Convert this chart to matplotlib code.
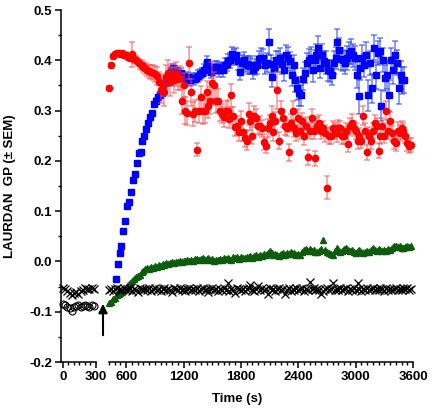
import numpy as np
import matplotlib
matplotlib.use("Agg")
import matplotlib.pyplot as plt
from matplotlib.ticker import MultipleLocator

plt.rcParams['font.family'] = ['Liberation Sans', 'DejaVu Sans']
plt.rcParams['font.weight'] = 'bold'
plt.rcParams['font.size'] = 9.5

# sampling every 20 s
step = 20

# before addition (left panel), t = 0..280 s
pre_start = 0
pre_cross = [-0.052, -0.055, -0.058, -0.062, -0.066, -0.063, -0.060, -0.064,
             -0.058, -0.056, -0.052, -0.054, -0.055, -0.052, -0.054]
pre_circle = [-0.084, -0.086, -0.090, -0.092, -0.098, -0.090, -0.088, -0.086,
              -0.090, -0.088, -0.086, -0.088, -0.090, -0.087, -0.088]

# blue squares, from 490 s
blue_start = 490
blue_gp = [
    -0.034, -0.005, 0.016, 0.030, 0.060, 0.080, 0.110, 0.118, 0.139, 0.161,
    0.173, 0.195, 0.215, 0.217, 0.240, 0.250, 0.264, 0.276, 0.287, 0.296,
    0.314, 0.320, 0.326, 0.331, 0.335, 0.345, 0.354, 0.360, 0.366, 0.378,
    0.384, 0.380, 0.375, 0.372, 0.374, 0.368, 0.365, 0.362, 0.366, 0.360,
    0.365, 0.362, 0.364, 0.368, 0.372, 0.374, 0.380, 0.385, 0.396, 0.382,
    0.376, 0.380, 0.386, 0.386, 0.380, 0.384, 0.380, 0.390, 0.392, 0.398,
    0.400, 0.413, 0.406, 0.410, 0.398, 0.376, 0.395, 0.400, 0.392, 0.390,
    0.388, 0.390, 0.380, 0.386, 0.390, 0.402, 0.405, 0.405, 0.390, 0.395,
    0.436, 0.392, 0.367, 0.385, 0.400, 0.398, 0.405, 0.392, 0.380, 0.410,
    0.405, 0.398, 0.370, 0.390, 0.360, 0.344, 0.334, 0.330, 0.362, 0.375,
    0.395, 0.400, 0.405, 0.380, 0.400, 0.410, 0.425, 0.385, 0.410, 0.398,
    0.395, 0.380, 0.378, 0.370, 0.395, 0.405, 0.436, 0.420, 0.402, 0.400,
    0.395, 0.405, 0.415, 0.418, 0.410, 0.405, 0.370, 0.328, 0.385, 0.405,
    0.390, 0.410, 0.330, 0.395, 0.344, 0.425, 0.370, 0.415, 0.418, 0.310,
    0.400, 0.365, 0.370, 0.330, 0.400, 0.380, 0.410, 0.395, 0.344, 0.370,
    0.360, 0.360,
]
blue_sem = [
    0.003, 0.003, 0.005, 0.004, 0.003, 0.003, 0.004, 0.003, 0.003, 0.003,
    0.003, 0.003, 0.003, 0.004, 0.003, 0.003, 0.004, 0.003, 0.004, 0.004,
    0.004, 0.005, 0.005, 0.005, 0.006, 0.006, 0.006, 0.007, 0.007, 0.008,
    0.008, 0.008, 0.009, 0.008, 0.010, 0.009, 0.010, 0.009, 0.010, 0.011,
    0.010, 0.011, 0.010, 0.012, 0.011, 0.010, 0.012, 0.011, 0.013, 0.012,
    0.011, 0.012, 0.013, 0.012, 0.014, 0.012, 0.013, 0.015, 0.013, 0.014,
    0.015, 0.014, 0.016, 0.015, 0.017, 0.016, 0.015, 0.017, 0.016, 0.018,
    0.016, 0.018, 0.017, 0.016, 0.018, 0.017, 0.019, 0.018, 0.017, 0.019,
    0.026, 0.018, 0.020, 0.019, 0.018, 0.021, 0.019, 0.020, 0.022, 0.020,
    0.021, 0.019, 0.022, 0.020, 0.024, 0.022, 0.025, 0.020, 0.022, 0.021,
    0.020, 0.022, 0.021, 0.023, 0.020, 0.022, 0.024, 0.021, 0.022, 0.020,
    0.023, 0.021, 0.022, 0.020, 0.023, 0.022, 0.026, 0.024, 0.022, 0.021,
    0.023, 0.024, 0.022, 0.025, 0.023, 0.024, 0.026, 0.034, 0.024, 0.025,
    0.023, 0.026, 0.030, 0.024, 0.028, 0.025, 0.027, 0.024, 0.026, 0.030,
    0.024, 0.026, 0.028, 0.030, 0.025, 0.027, 0.028, 0.025, 0.030, 0.028,
    0.027, 0.026,
]

# red circles, from 420 s
red_start = 420
red_gp = [
    0.344, 0.390, 0.408, 0.413, 0.415, 0.414, 0.412, 0.414, 0.410, 0.410,
    0.406, 0.405, 0.412, 0.402, 0.400, 0.396, 0.392, 0.390, 0.386, 0.384,
    0.380, 0.378, 0.376, 0.375, 0.372, 0.368, 0.356, 0.340, 0.350, 0.336,
    0.366, 0.374, 0.356, 0.370, 0.360, 0.372, 0.362, 0.364, 0.320, 0.350,
    0.300, 0.296, 0.394, 0.336, 0.294, 0.300, 0.222, 0.300, 0.326, 0.300,
    0.300, 0.336, 0.310, 0.320, 0.354, 0.350, 0.320, 0.320, 0.300, 0.294,
    0.287, 0.300, 0.300, 0.284, 0.330, 0.290, 0.267, 0.270, 0.257, 0.280,
    0.257, 0.245, 0.240, 0.294, 0.280, 0.250, 0.290, 0.285, 0.270, 0.270,
    0.265, 0.237, 0.230, 0.265, 0.275, 0.290, 0.257, 0.280, 0.340, 0.240,
    0.300, 0.285, 0.270, 0.265, 0.217, 0.275, 0.300, 0.265, 0.255, 0.285,
    0.260, 0.280, 0.250, 0.270, 0.207, 0.260, 0.285, 0.260, 0.205, 0.270,
    0.275, 0.260, 0.265, 0.255, 0.147, 0.250, 0.250, 0.265, 0.260, 0.255,
    0.265, 0.265, 0.250, 0.250, 0.260, 0.234, 0.270, 0.275, 0.265, 0.260,
    0.240, 0.250, 0.240, 0.290, 0.260, 0.217, 0.250, 0.240, 0.260, 0.275,
    0.270, 0.220, 0.250, 0.270, 0.250, 0.300, 0.260, 0.280, 0.255, 0.240,
    0.235, 0.260, 0.255, 0.265, 0.260, 0.250, 0.235, 0.230, 0.232,
]
red_sem = [
    0.004, 0.005, 0.005, 0.004, 0.004, 0.005, 0.004, 0.005, 0.005, 0.006,
    0.006, 0.007, 0.025, 0.007, 0.008, 0.008, 0.009, 0.010, 0.010, 0.011,
    0.012, 0.013, 0.014, 0.015, 0.016, 0.018, 0.020, 0.024, 0.022, 0.026,
    0.024, 0.026, 0.028, 0.022, 0.026, 0.024, 0.022, 0.024, 0.027, 0.024,
    0.026, 0.024, 0.032, 0.027, 0.024, 0.022, 0.013, 0.024, 0.022, 0.026,
    0.024, 0.022, 0.024, 0.026, 0.042, 0.027, 0.024, 0.022, 0.020, 0.019,
    0.020, 0.019, 0.022, 0.019, 0.022, 0.018, 0.018, 0.019, 0.017, 0.019,
    0.018, 0.017, 0.019, 0.022, 0.018, 0.017, 0.019, 0.018, 0.017, 0.019,
    0.017, 0.016, 0.015, 0.018, 0.017, 0.019, 0.017, 0.018, 0.036, 0.017,
    0.019, 0.017, 0.018, 0.016, 0.017, 0.018, 0.019, 0.017, 0.016, 0.018,
    0.017, 0.016, 0.018, 0.017, 0.015, 0.017, 0.018, 0.016, 0.015, 0.017,
    0.016, 0.017, 0.015, 0.017, 0.023, 0.016, 0.017, 0.015, 0.016, 0.017,
    0.016, 0.015, 0.017, 0.016, 0.015, 0.017, 0.016, 0.018, 0.015, 0.016,
    0.017, 0.016, 0.015, 0.019, 0.016, 0.015, 0.017, 0.016, 0.015, 0.017,
    0.016, 0.015, 0.017, 0.016, 0.015, 0.019, 0.016, 0.017, 0.015, 0.016,
    0.015, 0.017, 0.016, 0.015, 0.016, 0.015, 0.016, 0.015, 0.014,
]

# green triangles, from 420 s
green_start = 420
green_gp = [
    -0.082, -0.080, -0.075, -0.072, -0.067, -0.065, -0.062, -0.060, -0.056, -0.053,
    -0.046, -0.042, -0.038, -0.034, -0.031, -0.029, -0.026, -0.022, -0.020, -0.016,
    -0.014, -0.015, -0.012, -0.013, -0.010, -0.011, -0.008, -0.009, -0.006, -0.007,
    -0.004, -0.005, -0.003, -0.002, -0.004, -0.001, -0.002, 0.000, -0.002, 0.001,
    0.000, 0.002, 0.000, 0.003, 0.001, 0.004, 0.005, 0.002, 0.004, 0.006,
    0.003, 0.005, 0.006, 0.002, 0.004, 0.001, 0.003, 0.002, 0.005, 0.003,
    0.006, 0.004, 0.007, 0.005, 0.003, 0.008, 0.006, 0.008, 0.005, 0.009,
    0.007, 0.006, 0.009, 0.008, 0.011, 0.007, 0.010, 0.012, 0.009, 0.013,
    0.010, 0.014, 0.012, 0.017, 0.020, 0.016, 0.013, 0.015, 0.012, 0.011,
    0.014, 0.016, 0.013, 0.017, 0.015, 0.018, 0.014, 0.016, 0.012, 0.015,
    0.013, 0.019, 0.022, 0.025, 0.021, 0.024, 0.020, 0.023, 0.019, 0.018,
    0.021, 0.024, 0.042, 0.022, 0.019, 0.016, 0.014, 0.012, 0.020, 0.026,
    0.022, 0.018, 0.021, 0.024, 0.026, 0.022, 0.020, 0.023, 0.019, 0.016,
    0.020, 0.022, 0.019, 0.017, 0.018, 0.021, 0.018, 0.022, 0.026, 0.023,
    0.020, 0.024, 0.022, 0.020, 0.023, 0.021, 0.024, 0.022, 0.026, 0.030,
    0.031, 0.028, 0.030, 0.027, 0.026, 0.029, 0.031, 0.028, 0.030,
]

# black crosses, from 420 s
cross_start = 420
cross_gp = [
    -0.056, -0.054, -0.058, -0.055, -0.052, -0.057, -0.054, -0.056, -0.053, -0.057,
    -0.055, -0.052, -0.058, -0.054, -0.056, -0.060, -0.053, -0.055, -0.057, -0.054,
    -0.056, -0.052, -0.058, -0.055, -0.053, -0.057, -0.054, -0.059, -0.055, -0.052,
    -0.057, -0.054, -0.056, -0.060, -0.053, -0.055, -0.057, -0.052, -0.056, -0.054,
    -0.058, -0.055, -0.053, -0.057, -0.054, -0.056, -0.052, -0.058, -0.055, -0.053,
    -0.057, -0.054, -0.060, -0.055, -0.052, -0.056, -0.054, -0.058, -0.055, -0.057,
    -0.053, -0.056, -0.042, -0.058, -0.054, -0.056, -0.062, -0.053, -0.055, -0.057,
    -0.054, -0.058, -0.055, -0.052, -0.046, -0.056, -0.058, -0.054, -0.048, -0.056,
    -0.053, -0.057, -0.055, -0.064, -0.052, -0.056, -0.054, -0.058, -0.055, -0.053,
    -0.057, -0.054, -0.064, -0.056, -0.052, -0.058, -0.054, -0.056, -0.053, -0.057,
    -0.055, -0.052, -0.058, -0.054, -0.056, -0.040, -0.055, -0.053, -0.057, -0.054,
    -0.056, -0.064, -0.058, -0.054, -0.052, -0.056, -0.055, -0.042, -0.057, -0.054,
    -0.056, -0.053, -0.057, -0.055, -0.052, -0.058, -0.054, -0.056, -0.053, -0.057,
    -0.042, -0.055, -0.058, -0.054, -0.056, -0.052, -0.057, -0.055, -0.053, -0.056,
    -0.054, -0.057, -0.052, -0.055, -0.058, -0.053, -0.056, -0.054, -0.057, -0.055,
    -0.053, -0.056, -0.054, -0.057, -0.052, -0.055, -0.053, -0.056, -0.054,
]


def times(start, vals):
    return start + step * np.arange(len(vals))


fig = plt.figure(figsize=(4.32, 4.11), dpi=100)
W, H = 432.0, 411.0
bottom, height = 1 - 362 / H, 352 / H
ax_l = fig.add_axes([61 / W, bottom, 35 / W, height])
ax_r = fig.add_axes([109 / W, bottom, 304 / W, height], sharey=ax_l)

# left panel: baseline before addition
ax_l.plot(times(pre_start, pre_circle), pre_circle, 'o', mfc='none', mec='black',
          ms=5, mew=0.8, clip_on=False)
ax_l.plot(times(pre_start, pre_cross), pre_cross, 'x', color='black',
          ms=6, mew=0.9, clip_on=False)

# right panel
ax_r.errorbar(times(blue_start, blue_gp), blue_gp, yerr=blue_sem, fmt='s',
              color='#0000ff', ms=4, ecolor=(0.15, 0.25, 0.95, 0.65),
              elinewidth=1.1, capsize=2, capthick=1.1, clip_on=False, zorder=3)
ax_r.errorbar(times(red_start, red_gp), red_gp, yerr=red_sem, fmt='o',
              color='#ff0000', ms=4.5, ecolor=(0.95, 0.3, 0.3, 0.6),
              elinewidth=1.1, capsize=2, capthick=1.1, clip_on=False, zorder=4)
ax_r.plot(times(green_start, green_gp), green_gp, '^', color='#0d5c0d',
          ms=5, clip_on=False, zorder=3)
ax_r.plot(times(cross_start, cross_gp), cross_gp, 'x', color='black',
          ms=6, mew=0.9, clip_on=False, zorder=3)

ax_l.set_ylim(-0.2, 0.5)
ax_l.set_xlim(-18, 300)
ax_r.set_xlim(420, 3600)

ax_l.yaxis.set_major_locator(MultipleLocator(0.1))
ax_l.yaxis.set_minor_locator(MultipleLocator(0.05))
ax_l.yaxis.set_major_formatter(plt.FuncFormatter(lambda v, p: '%.1f' % v))
ax_l.set_xticks([0, 300])
ax_l.xaxis.set_minor_locator(MultipleLocator(50))
ax_r.set_xticks([600, 1200, 1800, 2400, 3000, 3600])
ax_r.xaxis.set_minor_locator(MultipleLocator(60))

for ax in (ax_l, ax_r):
    ax.spines['top'].set_visible(False)
    ax.spines['right'].set_visible(False)
    for s in ax.spines.values():
        s.set_linewidth(1.1)
    ax.tick_params(which='major', direction='out', length=4.5, width=1.1, pad=2)
    ax.tick_params(which='minor', direction='out', length=2.5, width=1.0)
    ax.patch.set_alpha(0)

ax_r.spines['left'].set_visible(False)
ax_r.tick_params(axis='y', which='both', left=False, labelleft=False)

fig.text(10 / W, 1 - 186 / H, 'LAURDAN  GP (± SEM)', rotation=90,
         ha='center', va='center', fontweight='bold')
fig.text(237 / W, 1 - 399 / H, 'Time (s)', ha='center', va='center',
         fontweight='bold')

# arrow marking the addition
fig.add_artist(matplotlib.patches.FancyArrowPatch(
    (103 / W, 1 - 338 / H), (103 / W, 1 - 301 / H), transform=fig.transFigure,
    arrowstyle='-|>', mutation_scale=13, lw=1.5, color='black'))

fig.savefig('out.png', dpi=100)
